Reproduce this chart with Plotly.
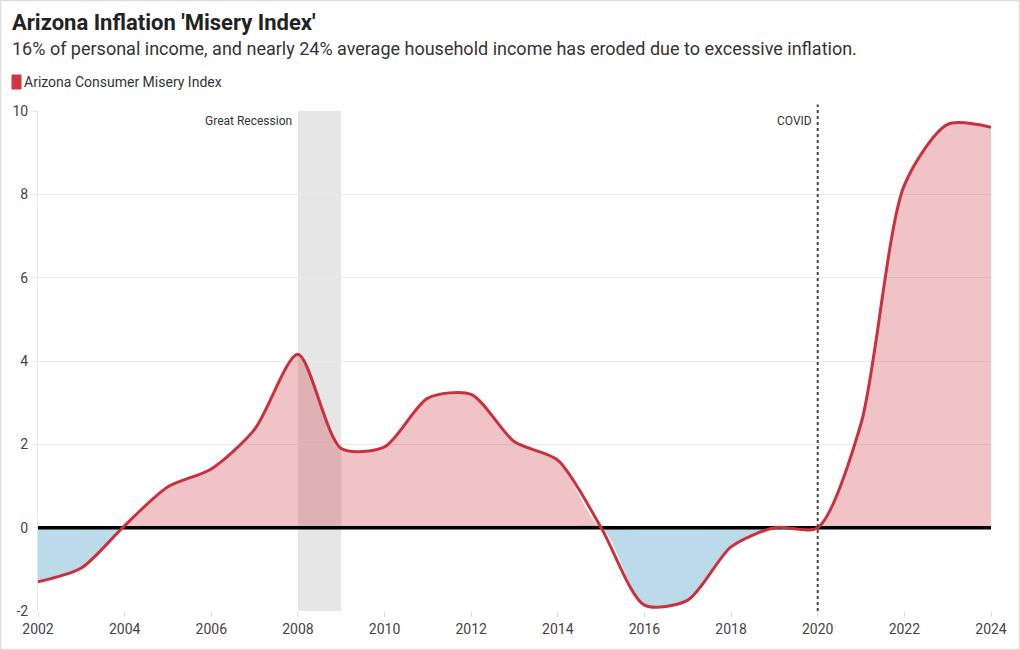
import plotly.graph_objects as go

years = list(range(2002, 2025))
misery = [-1.30, -0.97, 0.05, 0.98, 1.41, 2.36, 4.16, 1.90, 1.94, 3.11, 3.20, 2.06,
          1.62, 0.00, -1.86, -1.74, -0.46, 0.00, 0.00, 2.50, 8.22, 9.68, 9.61]
series_name = "Arizona Consumer Misery Index"
title = "Arizona Inflation 'Misery Index'"
subtitle = "16% of personal income, and nearly 24% average household income has eroded due to excessive inflation."
recession = (2008, 2009)
covid_year = 2020
x_ticks = list(range(2002, 2025, 2))
y_ticks = [-2, 0, 2, 4, 6, 8, 10]

RED = "#c8313d"
FONT = "Roboto"
SM = 0.75

W, H = 1020, 650
ML, MR, MT, MB = 38, 29, 111, 39
PW, PH = W - ML - MR, H - MT - MB


def px(x):
    return (x - ML) / PW


def py(y):
    return (H - MB - y) / PH


pos = [max(v, 0) for v in misery]
neg = [min(v, 0) for v in misery]

fig = go.Figure()
fig.add_trace(go.Scatter(x=years, y=neg, mode="lines", line=dict(width=0, shape="spline", smoothing=SM),
                         fill="tozeroy", fillcolor="rgba(150,198,222,0.65)", hoverinfo="skip", showlegend=False))
fig.add_trace(go.Scatter(x=years, y=pos, mode="lines", line=dict(width=0, shape="spline", smoothing=SM),
                         fill="tozeroy", fillcolor="rgba(205,55,68,0.30)", hoverinfo="skip", showlegend=False))
# zero baseline
fig.add_trace(go.Scatter(x=[years[0], years[-1]], y=[0, 0], mode="lines",
                         line=dict(color="#000000", width=3.5), hoverinfo="skip", showlegend=False))
fig.add_trace(go.Scatter(x=years, y=misery, mode="lines", name=series_name,
                         line=dict(color=RED, width=3, shape="spline", smoothing=SM), showlegend=False))

# recession band
fig.add_shape(type="rect", xref="x", yref="y", x0=recession[0], x1=recession[1], y0=-2, y1=10,
              fillcolor="#e6e6e6", line=dict(width=0), layer="below")
fig.add_annotation(x=recession[0], y=10, xref="x", yref="y", text="Great Recession", showarrow=False,
                   xanchor="right", yanchor="top", xshift=-4, yshift=-1,
                   font=dict(family=FONT, size=12, color="#333333"))
# covid line
fig.add_shape(type="line", xref="x", yref="paper", x0=covid_year, x1=covid_year, y0=0, y1=1.013,
              line=dict(color="#444444", width=2, dash="dot"), layer="above")
fig.add_annotation(x=covid_year, y=10, xref="x", yref="y", text="COVID", showarrow=False,
                   xanchor="right", yanchor="top", xshift=-4, yshift=-1,
                   font=dict(family=FONT, size=12, color="#333333"))

# title, subtitle, legend
fig.add_annotation(x=px(10), y=py(22), xref="paper", yref="paper", text="<b>" + title + "</b>",
                   showarrow=False, xanchor="left", yanchor="middle",
                   font=dict(family=FONT, size=22, color="#222222"))
fig.add_annotation(x=px(10), y=py(48), xref="paper", yref="paper", text=subtitle,
                   showarrow=False, xanchor="left", yanchor="middle",
                   font=dict(family=FONT, size=18, color="#333333"))
fig.add_shape(type="rect", xref="paper", yref="paper",
              x0=px(12), x1=px(21), y0=py(75), y1=py(89),
              fillcolor="#d23442", line=dict(color="#d23442", width=1))
fig.add_annotation(x=px(22), y=py(82), xref="paper", yref="paper", text=series_name,
                   showarrow=False, xanchor="left", yanchor="middle",
                   font=dict(family=FONT, size=14, color="#333333"))

# outer border
fig.add_shape(type="rect", xref="paper", yref="paper", x0=px(0.5), x1=px(W - 0.5),
              y0=py(H - 0.5), y1=py(0.5), line=dict(color="#dddddd", width=1.5), fillcolor="rgba(0,0,0,0)")

fig.update_layout(
    width=W, height=H,
    margin=dict(l=ML, r=MR, t=MT, b=MB),
    paper_bgcolor="white", plot_bgcolor="white",
    font=dict(family=FONT, size=14, color="#444444"),
    showlegend=False,
    xaxis=dict(range=[2002, 2024], tickvals=x_ticks, ticktext=[str(t) for t in x_ticks],
               showgrid=False, zeroline=False, ticks="outside", ticklen=5, tickcolor="#dddddd",
               tickfont=dict(family=FONT, size=14, color="#444444")),
    yaxis=dict(range=[-2, 10], tickvals=y_ticks, ticktext=[str(t) for t in y_ticks],
               showgrid=True, gridcolor="#ebebeb", gridwidth=1, zeroline=False,
               showline=True, linecolor="#e6e6e6", linewidth=1,
               ticks="outside", ticklen=6, tickcolor="#ebebeb",
               tickfont=dict(family=FONT, size=14, color="#444444")),
)

fig.write_html("out.html", config={"displayModeBar": False},
               post_script="document.body.style.margin='0';document.body.style.padding='0';")
